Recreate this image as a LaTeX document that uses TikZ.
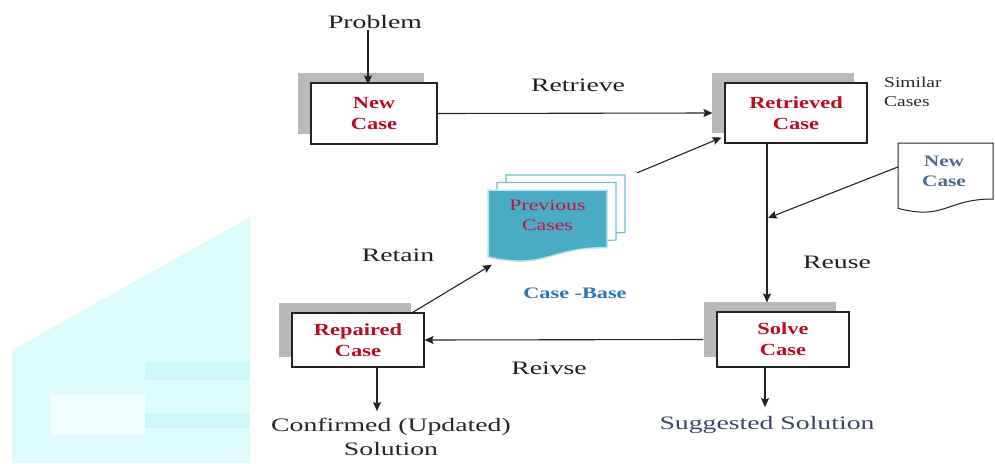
\documentclass[tikz,border=0pt]{standalone}
\usepackage{fontspec}
\setmainfont{Liberation Serif}
\usepackage{graphicx}
\usetikzlibrary{arrows.meta,shadows}
\definecolor{boxred}{RGB}{185,12,32}
\definecolor{tealA}{RGB}{75,172,198}
\definecolor{cbblue}{RGB}{46,116,181}
\definecolor{docblue}{RGB}{80,105,145}
\definecolor{suggc}{RGB}{60,70,100}
\definecolor{prevred}{RGB}{190,20,60}
\definecolor{wmA}{RGB}{222,251,252}
\definecolor{wmB}{RGB}{240,254,254}
\definecolor{wmC}{RGB}{205,246,249}
\definecolor{lnc}{RGB}{35,35,35}
\newcommand\sx[1]{\scalebox{1.46}[1]{#1}}
\newcommand\bx[1]{\scalebox{1.32}[1]{#1}}
\newcommand\docshape[5]{\filldraw[#1] (#2,#3) -- ({#2+#4},#3) -- ({#2+#4},{#3+0.8*#5}) .. controls ({#2+0.5*#4},{#3+0.8*#5}) and ({#2+0.5*#4},{#3+1.108*#5}) .. (#2,{#3+0.934*#5}) -- cycle;}
\begin{document}
\begin{tikzpicture}[x=1pt,y=-1pt,
  cbox/.style={draw=lnc, line width=1.1pt, fill=white, inner sep=0pt, align=center,
    font=\bfseries\fontsize{17}{21}\selectfont, text=boxred,
    general shadow={fill=gray!55, shadow xshift=-13pt, shadow yshift=10pt}},
  lbl/.style={font=\fontsize{19}{24}\selectfont, text=black!88, inner sep=1pt, align=center},
  arr/.style={draw=lnc, line width=1.1pt, -{Stealth[length=9pt,width=8pt,inset=1.5pt]}},
  ln/.style={draw=lnc, line width=1.1pt}]
\useasboundingbox (0,0) rectangle (995,463);
% faint watermark
\fill[wmA] (12,350) -- (250,217) -- (250,463) -- (12,463) -- cycle;
\fill[wmB] (50,395) rectangle (145,435);
\fill[wmC] (145,362) rectangle (250,380);
\fill[wmC] (145,413) rectangle (250,428);
% boxes
\node[cbox, minimum width=126pt, minimum height=61pt] (nc) at (374,113.5) {\bx{New}\\\bx{Case}};
\node[cbox, minimum width=142pt, minimum height=60pt] (ret) at (796,113) {\bx{Retrieved}\\\bx{Case}};
\node[cbox, minimum width=132pt, minimum height=55pt] (solve) at (783,339.5) {\bx{Solve}\\\bx{Case}};
\node[cbox, minimum width=132pt, minimum height=54pt] (rep) at (358,340) {\bx{Repaired}\\\bx{Case}};
% labels
\node[lbl] (prob) at (375,22) {\sx{Problem}};
\node[lbl] (retl) at (578,85) {\sx{Retrieve}};
\node[lbl] (reuse) at (837,262) {\sx{Reuse}};
\node[lbl] (retain) at (398,255) {\sx{Retain}};
\node[lbl] (reivse) at (549,368) {\sx{Reivse}};
\node[lbl, text=black!85] (conf) at (391,437) {\sx{Confirmed (Updated)}\\\sx{Solution}};
\node[lbl, text=suggc] (sugg) at (767,425) {\sx{Suggested Solution}};
\node[font=\fontsize{15}{19}\selectfont, text=black!85, align=left, anchor=west, inner sep=0pt] (sim) at (884,92) {\scalebox{1.3}[1]{Similar}\\\scalebox{1.3}[1]{Cases}};
\node[font=\bfseries\fontsize{16}{20}\selectfont, text=cbblue] (cb) at (575,293) {\scalebox{1.39}[1]{Case -Base}};
% case base document stack
\docshape{fill=white, draw=tealA!80, line width=1.2pt}{506}{175}{119}{72}
\docshape{fill=white, draw=tealA!80, line width=1.2pt}{497}{182.5}{119}{72}
\docshape{fill=tealA, draw=white!65!tealA, line width=1.5pt}{488}{190}{119}{72}
\node[font=\fontsize{16}{20}\selectfont, text=prevred, align=center, minimum width=119pt, minimum height=57pt, inner sep=0pt] (prev) at (547.5,215) {\scalebox{1.36}[1]{Previous}\\\scalebox{1.36}[1]{Cases}};
% new case document at right
\docshape{fill=white, draw=lnc, line width=1pt}{898}{143}{95}{70}
\node[font=\bfseries\fontsize{16}{20}\selectfont, text=docblue, align=center, minimum width=92pt, minimum height=50pt, inner sep=0pt] (newdoc) at (944,171) {\scalebox{1.33}[1]{New}\\\scalebox{1.33}[1]{Case}};
\coordinate (join) at (768,218);
% connectors
\draw[arr] ([xshift=-7pt]prob.south) -- ([xshift=-7pt,yshift=-2pt]prob.south |- nc.north);
\draw[arr] (nc.east) -- ([xshift=-12pt]ret.west);
\draw[arr] ([xshift=-29pt]ret.south) -- ([xshift=-16pt,yshift=9pt]solve.north);
\draw[arr] ([yshift=4pt]newdoc.west) -- (join);
\draw[arr] ([xshift=-13pt]solve.west) -- (rep.east);
\draw[arr] ([xshift=-18pt]solve.south) -- ([xshift=-18pt,yshift=8pt]solve.south |- sugg.north);
\draw[arr] ([xshift=19pt]rep.south) -- ([xshift=19pt,yshift=6pt]rep.south |- conf.north);
\draw[arr] ([xshift=-12pt]rep.north east) -- ([shift={(4,21)}]prev.south west);
\draw[arr] ([shift={(30,-13.5)}]prev.north east) -- ([shift={(-3,-6)}]ret.south west);
\end{tikzpicture}
\end{document}
